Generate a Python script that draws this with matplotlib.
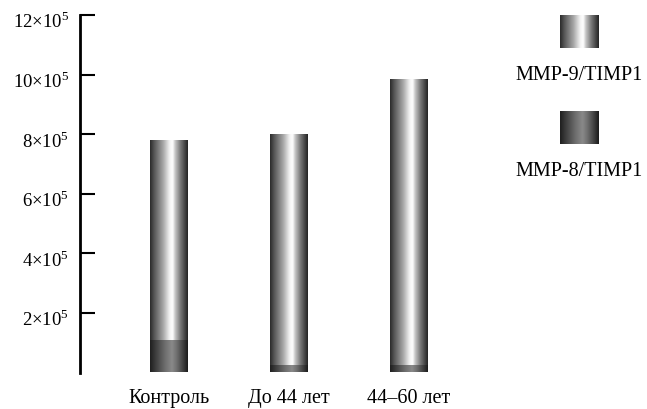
import numpy as np
import matplotlib
matplotlib.use("Agg")
import matplotlib.pyplot as plt
import matplotlib.transforms as mtransforms
from matplotlib.colors import LinearSegmentedColormap

plt.rcParams['font.family'] = ['Liberation Serif', 'DejaVu Serif']

categories = ['Контроль', 'До 44 лет', '44–60 лет']
mmp8 = [1.09e5, 0.25e5, 0.25e5]
mmp9_total = [7.77e5, 8.0e5, 9.82e5]
mmp9 = [t - b for t, b in zip(mmp9_total, mmp8)]
yticks = [2e5, 4e5, 6e5, 8e5, 10e5, 12e5]
ytick_labels = ['2×10$^\\mathregular{5}$', '4×10$^\\mathregular{5}$', '6×10$^\\mathregular{5}$',
                '8×10$^\\mathregular{5}$', '10×10$^\\mathregular{5}$', '12×10$^\\mathregular{5}$']
legend_labels = ['MMP-9/TIMP1', 'MMP-8/TIMP1']

light_cmap = LinearSegmentedColormap.from_list('light', [
    (0.0, '#2a2a2a'), (0.12, '#5a5a5a'), (0.35, '#a8a8a8'),
    (0.52, '#f4f4f4'), (0.6, '#ffffff'), (0.66, '#c8c8c8'),
    (0.8, '#7a7a7a'), (1.0, '#222222')])
dark_cmap = LinearSegmentedColormap.from_list('dark', [
    (0.0, '#1e1e1e'), (0.15, '#3e3e3e'), (0.4, '#6e6e6e'),
    (0.58, '#8a8a8a'), (0.7, '#707070'), (0.85, '#474747'), (1.0, '#1a1a1a')])

grad = np.linspace(0, 1, 256).reshape(1, -1)

W, H = 647, 409
fig = plt.figure(figsize=(W / 100, H / 100), dpi=100)
ax = fig.add_axes([80 / W, (H - 372.5) / H, (470 - 80) / W, (372.5 - 15) / H])

x = np.arange(len(categories))
bw = 38 / 120
b8 = ax.bar(x, mmp8, width=bw, color='none')
b9 = ax.bar(x, mmp9, bottom=mmp8, width=bw, color='none')

def fill_gradient(a, rect, cmap):
    x0, y0 = rect.get_x(), rect.get_y()
    w, h = rect.get_width(), rect.get_height()
    a.imshow(grad, cmap=cmap, extent=[x0, x0 + w, y0, y0 + h],
             aspect='auto', interpolation='bicubic', zorder=2)

for r in b8:
    fill_gradient(ax, r, dark_cmap)
for r in b9:
    fill_gradient(ax, r, light_cmap)

ax.set_xlim(-0.742, 2.508)
ax.set_ylim(0, 12e5)
ax.set_xticks(x)
ax.set_xticklabels(categories, fontsize=14.5)
ax.set_yticks(yticks)
ax.set_yticklabels(ytick_labels, fontsize=13.5)
ax.tick_params(axis='x', length=0, pad=12)
ax.tick_params(axis='y', direction='in', length=11, width=1.5, pad=8)
shift = mtransforms.ScaledTranslation(0, -5 / 100, fig.dpi_scale_trans)
for lbl in ax.get_yticklabels():
    lbl.set_transform(lbl.get_transform() + shift)
for s in ['top', 'right', 'bottom']:
    ax.spines[s].set_visible(False)
ax.spines['left'].set_linewidth(2)
ax.set_facecolor('none')

# legend
lax = fig.add_axes([0, 0, 1, 1], facecolor='none')
lax.axis('off')
for i, (lab, cmap) in enumerate(zip(legend_labels, [light_cmap, dark_cmap])):
    y0 = 15 + i * 96
    lax.imshow(grad, cmap=cmap, extent=[560, 599, y0 + 33, y0],
               aspect='auto', interpolation='bicubic')
    lax.text(579, y0 + 60, lab, ha='center', va='center', fontsize=14.5)
lax.set_xlim(0, W)
lax.set_ylim(H, 0)

fig.savefig('out.png', dpi=100)
